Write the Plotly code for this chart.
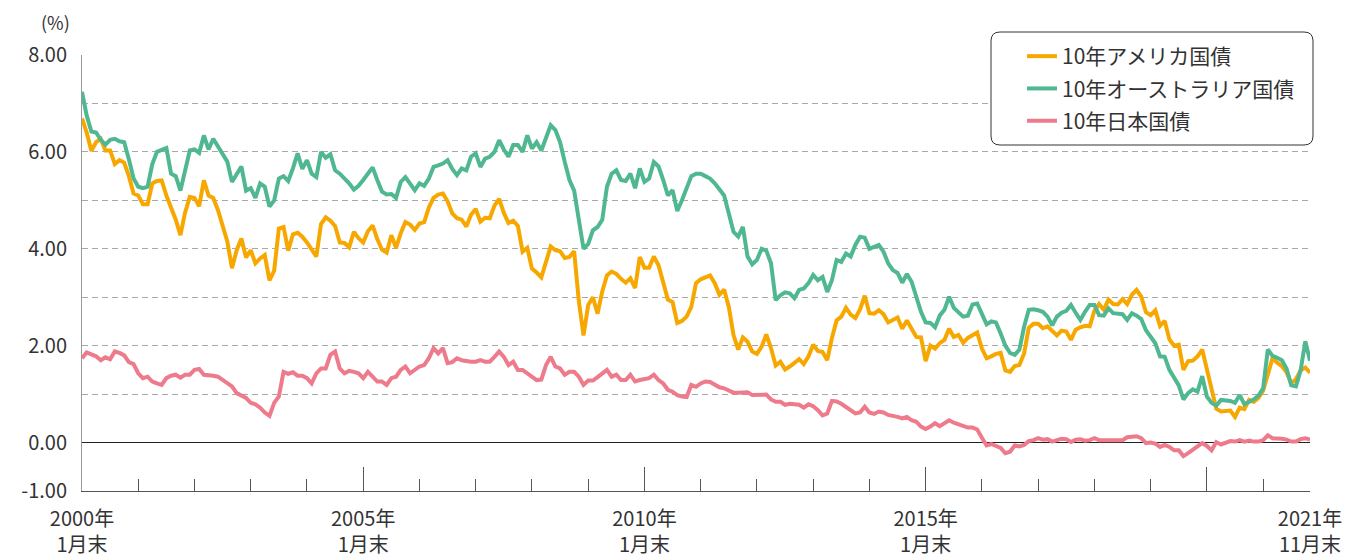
import plotly.graph_objects as go

# ---- data (month-end yields, %, 2000-01 .. 2021-11) ----
us_10y = [
    6.69, 6.40, 6.02, 6.20, 6.27, 6.03, 6.03, 5.75, 5.83, 5.78, 5.50, 5.14,
    5.10, 4.92, 4.92, 5.35, 5.40, 5.41, 5.10, 4.85, 4.60, 4.28, 4.75, 5.07,
    5.05, 4.88, 5.41, 5.10, 5.05, 4.80, 4.46, 4.15, 3.60, 3.97, 4.21, 3.82,
    3.97, 3.70, 3.80, 3.87, 3.35, 3.55, 4.42, 4.45, 3.96, 4.30, 4.33, 4.25,
    4.13, 3.99, 3.84, 4.51, 4.65, 4.58, 4.47, 4.13, 4.12, 4.03, 4.35, 4.22,
    4.13, 4.36, 4.48, 4.20, 3.98, 3.92, 4.28, 4.02, 4.32, 4.55, 4.50, 4.39,
    4.52, 4.55, 4.85, 5.05, 5.12, 5.14, 4.98, 4.73, 4.63, 4.60, 4.46, 4.70,
    4.82, 4.56, 4.64, 4.63, 4.89, 5.03, 4.74, 4.53, 4.58, 4.47, 3.94, 4.02,
    3.59, 3.51, 3.41, 3.73, 4.05, 3.97, 3.95, 3.81, 3.83, 3.95, 2.92, 2.21,
    2.84, 3.00, 2.66, 3.12, 3.45, 3.53, 3.48, 3.38, 3.30, 3.39, 3.19, 3.83,
    3.61, 3.61, 3.84, 3.66, 3.29, 2.95, 2.90, 2.47, 2.51, 2.60, 2.80, 3.29,
    3.37, 3.42, 3.45, 3.29, 3.05, 3.16, 2.80, 2.22, 1.92, 2.17, 2.08, 1.88,
    1.83, 1.98, 2.23, 1.95, 1.59, 1.67, 1.51, 1.57, 1.65, 1.72, 1.62, 1.78,
    2.02, 1.89, 1.87, 1.70, 2.16, 2.52, 2.60, 2.78, 2.64, 2.57, 2.75, 3.03,
    2.67, 2.66, 2.73, 2.65, 2.48, 2.53, 2.58, 2.35, 2.52, 2.35, 2.18, 2.17,
    1.68, 2.00, 1.94, 2.05, 2.12, 2.35, 2.18, 2.22, 2.06, 2.16, 2.21, 2.27,
    1.94, 1.74, 1.78, 1.83, 1.85, 1.49, 1.46, 1.58, 1.60, 1.84, 2.37, 2.45,
    2.45, 2.36, 2.40, 2.29, 2.21, 2.31, 2.29, 2.12, 2.33, 2.38, 2.41, 2.40,
    2.72, 2.86, 2.74, 2.95, 2.86, 2.85, 2.96, 2.86, 3.05, 3.15, 3.01, 2.69,
    2.63, 2.73, 2.41, 2.51, 2.13, 2.00, 2.02, 1.50, 1.68, 1.69, 1.78, 1.92,
    1.51, 1.13, 0.70, 0.64, 0.65, 0.66, 0.53, 0.72, 0.69, 0.88, 0.84, 0.92,
    1.07, 1.44, 1.74, 1.65, 1.58, 1.45, 1.22, 1.31, 1.49, 1.55, 1.44,
]

au_10y = [
    7.24, 6.75, 6.42, 6.40, 6.25, 6.15, 6.25, 6.27, 6.22, 6.20, 5.85, 5.45,
    5.28, 5.25, 5.28, 5.75, 6.00, 6.05, 6.08, 5.55, 5.50, 5.20, 5.65, 6.03,
    6.05, 5.98, 6.34, 6.05, 6.27, 6.10, 5.95, 5.80, 5.38, 5.55, 5.70, 5.20,
    5.25, 5.05, 5.35, 5.28, 4.87, 5.00, 5.45, 5.50, 5.40, 5.66, 5.97, 5.65,
    5.83, 5.55, 5.48, 6.00, 5.88, 5.95, 5.62, 5.55, 5.45, 5.35, 5.22, 5.30,
    5.42, 5.55, 5.68, 5.42, 5.18, 5.12, 5.13, 5.05, 5.38, 5.48, 5.35, 5.21,
    5.35, 5.30, 5.45, 5.69, 5.72, 5.76, 5.83, 5.65, 5.52, 5.66, 5.62, 5.90,
    5.97, 5.69, 5.86, 5.90, 6.00, 6.24, 6.05, 5.90, 6.14, 6.14, 6.00, 6.34,
    6.07, 6.20, 6.03, 6.30, 6.55, 6.45, 6.20, 5.79, 5.42, 5.20, 4.60, 4.00,
    4.10, 4.38, 4.45, 4.60, 5.28, 5.55, 5.62, 5.42, 5.40, 5.55, 5.25, 5.66,
    5.38, 5.45, 5.79, 5.70, 5.42, 5.10, 5.21, 4.78, 5.00, 5.28, 5.50, 5.55,
    5.55, 5.50, 5.45, 5.35, 5.21, 5.10, 4.73, 4.35, 4.25, 4.45, 3.84, 3.68,
    3.77, 4.00, 3.96, 3.70, 2.94, 3.04, 3.10, 3.08, 2.98, 3.15, 3.18, 3.29,
    3.46, 3.35, 3.42, 3.11, 3.35, 3.77, 3.73, 3.90, 3.84, 4.08, 4.25, 4.23,
    4.00, 4.04, 4.08, 3.94, 3.70, 3.56, 3.50, 3.30, 3.48, 3.32, 3.00, 2.70,
    2.48, 2.47, 2.38, 2.62, 2.74, 3.01, 2.78, 2.68, 2.60, 2.62, 2.85, 2.87,
    2.67, 2.44, 2.50, 2.48, 2.25, 2.00, 1.85, 1.81, 1.92, 2.39, 2.74, 2.75,
    2.73, 2.70, 2.60, 2.42, 2.60, 2.68, 2.72, 2.84, 2.68, 2.53, 2.70, 2.84,
    2.84, 2.63, 2.62, 2.77, 2.67, 2.65, 2.65, 2.53, 2.67, 2.62, 2.55, 2.32,
    2.20, 2.05, 1.78, 1.77, 1.50, 1.33, 1.18, 0.89, 1.02, 1.10, 1.05, 1.37,
    0.95, 0.82, 0.76, 0.88, 0.88, 0.86, 0.82, 0.98, 0.79, 0.83, 0.89, 0.97,
    1.12, 1.92, 1.79, 1.75, 1.70, 1.53, 1.18, 1.16, 1.49, 2.09, 1.69,
]

jp_10y = [
    1.74, 1.86, 1.82, 1.78, 1.70, 1.76, 1.72, 1.88, 1.85, 1.80, 1.66, 1.62,
    1.43, 1.33, 1.36, 1.26, 1.22, 1.19, 1.33, 1.38, 1.40, 1.34, 1.40, 1.40,
    1.50, 1.52, 1.40, 1.40, 1.38, 1.36, 1.30, 1.22, 1.16, 1.02, 0.98, 0.92,
    0.82, 0.79, 0.72, 0.62, 0.55, 0.82, 0.95, 1.46, 1.42, 1.45, 1.38, 1.38,
    1.33, 1.22, 1.43, 1.53, 1.53, 1.81, 1.88, 1.53, 1.43, 1.48, 1.46, 1.43,
    1.33, 1.46, 1.36, 1.26, 1.26, 1.19, 1.33, 1.36, 1.50, 1.57, 1.43, 1.50,
    1.57, 1.60, 1.74, 1.95, 1.84, 1.95, 1.64, 1.66, 1.74, 1.70, 1.68, 1.67,
    1.67, 1.70, 1.67, 1.67, 1.77, 1.88, 1.77, 1.60, 1.67, 1.50, 1.50, 1.43,
    1.36, 1.29, 1.30, 1.60, 1.77, 1.57, 1.53, 1.40, 1.46, 1.46, 1.36, 1.19,
    1.28, 1.28, 1.35, 1.43, 1.50, 1.36, 1.40, 1.29, 1.29, 1.40, 1.26, 1.29,
    1.30, 1.33, 1.40, 1.29, 1.22, 1.09, 1.05, 0.98, 0.95, 0.94, 1.19, 1.15,
    1.22, 1.26, 1.25, 1.20, 1.14, 1.12, 1.07, 1.03, 1.03, 1.04, 1.04, 0.98,
    0.98, 0.97, 0.99, 0.89, 0.84, 0.84, 0.78, 0.80, 0.78, 0.78, 0.72, 0.79,
    0.75, 0.67, 0.56, 0.60, 0.86, 0.85, 0.80, 0.73, 0.66, 0.60, 0.62, 0.74,
    0.62, 0.59, 0.64, 0.62, 0.57, 0.56, 0.53, 0.50, 0.53, 0.46, 0.43, 0.33,
    0.28, 0.33, 0.40, 0.34, 0.39, 0.46, 0.41, 0.38, 0.36, 0.31, 0.31, 0.27,
    0.10, -0.06, -0.03, -0.08, -0.11, -0.22, -0.19, -0.06, -0.08, -0.05, 0.03, 0.05,
    0.09, 0.06, 0.07, 0.02, 0.04, 0.08, 0.07, 0.01, 0.06, 0.07, 0.04, 0.05,
    0.09, 0.05, 0.05, 0.05, 0.04, 0.04, 0.05, 0.11, 0.13, 0.13, 0.09, -0.01,
    0.00, -0.02, -0.09, -0.05, -0.09, -0.16, -0.16, -0.28, -0.22, -0.14, -0.08, -0.01,
    -0.07, -0.16, 0.01, -0.04, 0.00, 0.03, 0.02, 0.05, 0.02, 0.04, 0.02, 0.02,
    0.05, 0.15, 0.09, 0.09, 0.08, 0.06, 0.02, 0.02, 0.07, 0.09, 0.06,
]

series_names = ["10年アメリカ国債", "10年オーストラリア国債", "10年日本国債"]
series_colors = ["#F7A800", "#4FB891", "#EE7B8B"]

x_label_pos = [0, 60, 120, 180, 262]
x_label_text = ["2000年<br>1月末", "2005年<br>1月末", "2010年<br>1月末",
                "2015年<br>1月末", "2021年<br>11月末"]
x_major_ticks = [60, 120, 180, 240]
y_ticks = [-1, 0, 1, 2, 3, 4, 5, 6, 7, 8]
y_tick_text = ["-1.00", "0.00", "", "2.00", "", "4.00", "", "6.00", "", "8.00"]

n = len(us_10y)
months = list(range(n))
year_ticks = [m for m in range(12, n, 12) if m not in x_major_ticks] + [n - 1]

FONT = "Noto Sans CJK JP, Noto Sans, sans-serif"

fig = go.Figure()
for name, vals, col in zip(series_names, [us_10y, au_10y, jp_10y], series_colors):
    fig.add_trace(go.Scatter(x=months, y=vals, mode="lines", name=name, legendgroup=name,
                             line=dict(color=col, width=4)))

# helper trace for the long-tick overlay axis
fig.add_trace(go.Scatter(x=[0, n - 1], y=[-1, -1], mode="lines", xaxis="x2",
                         line=dict(width=0), showlegend=False, hoverinfo="skip"))

W, H = 1350, 558
ml, mr, mt, mb = 82, 40, 55, 67
pw, ph = W - ml - mr, H - mt - mb

fig.update_layout(
    width=W, height=H,
    margin=dict(l=ml, r=mr, t=mt, b=mb, autoexpand=False),
    paper_bgcolor="white", plot_bgcolor="white",
    font=dict(family=FONT, size=20, color="#333333"),
    showlegend=True,
    legend=dict(xref="container", yref="container",
                x=1022 / W, y=1 - 36 / H, xanchor="left", yanchor="top",
                bgcolor="rgba(0,0,0,0)", borderwidth=0,
                font=dict(family=FONT, size=21, color="#333333"),
                tracegroupgap=2),
    xaxis=dict(range=[0, n - 1], showgrid=False, zeroline=False, automargin=False,
               showline=True, linecolor="#555555", linewidth=1,
               ticks="inside", ticklen=12, tickcolor="#555555", tickwidth=1,
               tickmode="array", tickvals=x_label_pos, ticktext=x_label_text,
               ticklabelstandoff=10,
               tickfont=dict(family=FONT, size=20, color="#333333"),
               minor=dict(tickmode="array", tickvals=year_ticks, ticks="inside",
                          ticklen=12, tickcolor="#555555", tickwidth=1, showgrid=False)),
    xaxis2=dict(range=[0, n - 1], overlaying="x", anchor="y", side="bottom",
                showgrid=False, zeroline=False, showline=False, automargin=False,
                ticks="inside", ticklen=24, tickcolor="#555555", tickwidth=1,
                tickmode="array", tickvals=x_major_ticks, showticklabels=False),
    yaxis=dict(range=[-1, 8], tickmode="array", tickvals=y_ticks, ticktext=y_tick_text,
               showgrid=True, gridcolor="#A8A8A8", gridwidth=1, griddash="6px,4px",
               zeroline=True, zerolinecolor="#222222", zerolinewidth=1, automargin=False,
               showline=True, linecolor="#999999", linewidth=1,
               ticks="", ticklabelstandoff=10,
               tickfont=dict(family=FONT, size=20, color="#333333")),
    annotations=[dict(text="(%)", xref="paper", yref="paper", x=0, y=1 + (mt - 22) / ph,
                      xanchor="right", yanchor="middle", xshift=-10, showarrow=False,
                      font=dict(family=FONT, size=18, color="#333333"))],
)

# rounded legend frame
x0, x1 = (991 - ml) / pw, (1313 - ml) / pw
y1, y0 = 1 + (mt - 32) / ph, 1 - (145 - mt) / ph
rx, ry = 9 / pw, 9 / ph
path = (f"M {x0+rx},{y1} L {x1-rx},{y1} Q {x1},{y1} {x1},{y1-ry} "
        f"L {x1},{y0+ry} Q {x1},{y0} {x1-rx},{y0} L {x0+rx},{y0} "
        f"Q {x0},{y0} {x0},{y0+ry} L {x0},{y1-ry} Q {x0},{y1} {x0+rx},{y1} Z")
fig.add_shape(type="path", path=path, xref="paper", yref="paper",
              line=dict(color="#333333", width=1), fillcolor="white", layer="above")

fig.write_html("out.html", config={"displayModeBar": False},
               post_script="document.body.style.margin='0';document.body.style.padding='0';")
